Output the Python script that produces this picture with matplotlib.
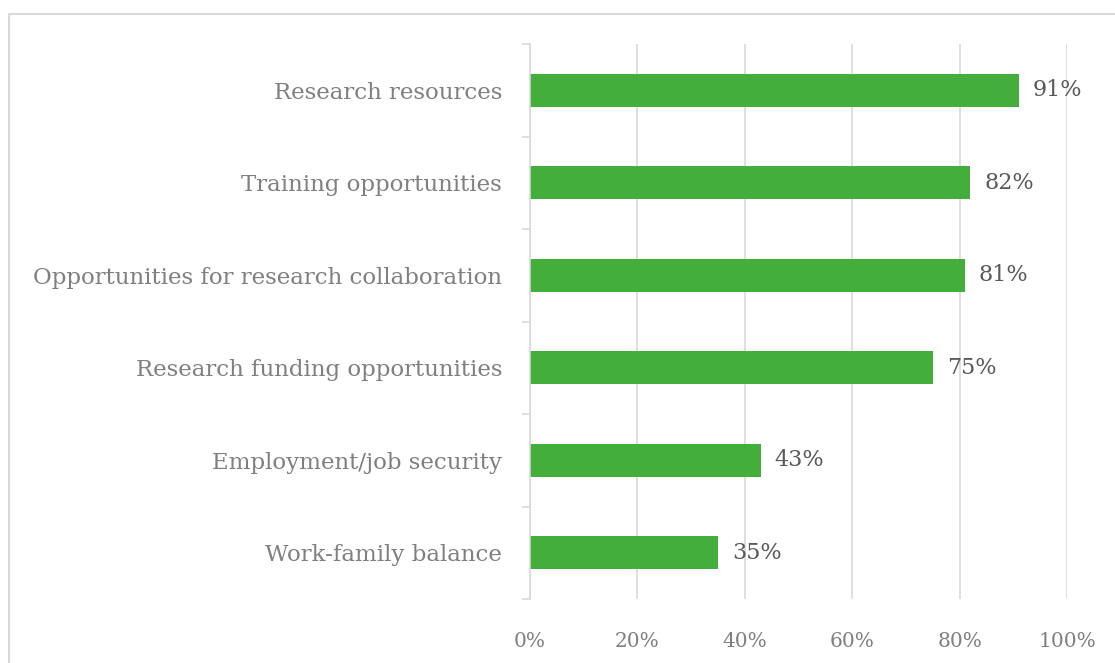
import numpy as np
import matplotlib.pyplot as plt
from matplotlib.patches import Rectangle

categories = ["Research resources", "Training opportunities",
              "Opportunities for research collaboration",
              "Research funding opportunities", "Employment/job security",
              "Work-family balance"]
values = [91, 82, 81, 75, 43, 35]
xticks = [0, 20, 40, 60, 80, 100]

plt.rcParams['font.family'] = ['DejaVu Serif']

fig = plt.figure(figsize=(11.15, 6.63), dpi=100)
fig.patches.append(Rectangle((9/1115, -0.1), 1.2, 1 - 14/663 + 0.1,
                             transform=fig.transFigure, fill=False,
                             edgecolor='#d9d9d9', linewidth=1.5))
ax = fig.add_axes([530/1115, 1 - 599/663, 537/1115, 555/663])

y = np.arange(len(categories))
ax.barh(y, values, height=0.36, color='#43ae3c')
for yi, v in zip(y, values):
    ax.text(v + 2.6, yi, f"{v}%", va='center', ha='left',
            fontsize=16, color='#595959')

ax.set_xlim(0, 100)
ax.set_ylim(len(categories) - 0.5, -0.5)
ax.set_xticks(xticks)
ax.set_xticklabels([f"{t}%" for t in xticks], fontsize=14.5, color='#7f7f7f')
ax.set_yticks(y)
ax.set_yticklabels(categories, fontsize=16.5, color='#7f7f7f')
ax.set_yticks(np.arange(len(categories) + 1) - 0.5, minor=True)

ax.tick_params(axis='x', length=0, pad=24)
ax.tick_params(axis='y', which='major', length=0, pad=20)
ax.tick_params(axis='y', which='minor', length=6, color='#d9d9d9', width=1.2)

ax.grid(axis='x', color='#d9d9d9', linewidth=1.2)
ax.set_axisbelow(True)
for s in ['top', 'right', 'bottom']:
    ax.spines[s].set_visible(False)
ax.spines['left'].set_color('#d9d9d9')
ax.spines['left'].set_linewidth(1.2)

fig.savefig('out.png', dpi=100)
